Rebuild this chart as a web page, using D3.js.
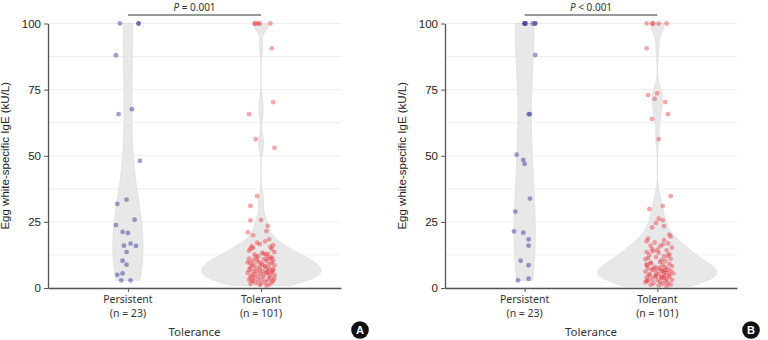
<!DOCTYPE html>
<html>
<head>
<meta charset="utf-8">
<script src="https://cdnjs.cloudflare.com/ajax/libs/d3/7.8.5/d3.min.js"></script>
<style>
body { margin: 0; background: #fff; }
</style>
</head>
<body>
<script>
// categories and labels
const categories = ["Persistent", "Tolerant"]
const counts = [23, 101]
const yTicks = [0, 25, 50, 75, 100]
const gridTicks = [0, 12.5, 25, 37.5, 50, 62.5, 75, 87.5, 100]
const pTexts = ["= 0.001", "< 0.001"]
const panelLetters = ["A", "B"]

// panel A
const aPersistent = [100, 100, 100, 88, 65.7, 67.6, 48.1, 33.4, 31.8, 23.8, 25.8, 21.2, 20.8, 16.8, 15.9, 16.0, 13.6, 10.3, 8.8, 5.0, 5.5, 2.9, 2.9]
const aPersistentJitter = [-0.06, 0.08, 0.08, -0.09, -0.07, 0.03, 0.09, -0.01, -0.08, -0.09, 0.05, -0.04, 0.00, 0.02, 0.06, -0.03, -0.01, -0.04, -0.01, -0.08, -0.04, -0.05, 0.02]
const aTolerant = [100, 100, 100, 100, 100, 90.6, 70.3, 65.7, 56.3, 53.0, 34.7, 31.0, 25.7, 25.6, 23.5, 21.5, 21.0, 19.9,
  18.4, 17.1, 16.6, 15.5, 15.8, 14.7, 14.1, 13.6, 13.0, 12.7, 12.3, 12.1, 16.2, 14.9, 13.3, 17.6, 15.1, 12.9,
  11.8, 11.4, 11.1, 10.9, 10.5, 10.4, 10.2, 9.9, 9.6, 9.4, 9.3, 9.0, 8.7, 8.6, 8.4, 8.2, 8.1, 11.0, 9.7, 8.9, 10.7, 11.6,
  7.9, 7.6, 7.5, 7.3, 7.1, 7.0, 6.8, 6.7, 6.4, 6.3, 6.1, 6.0, 5.8, 5.7, 5.5, 5.3, 5.1, 5.0, 4.8, 4.6, 4.5, 4.3, 4.1, 6.6, 5.9,
  3.9, 3.7, 3.4, 3.2, 3.1, 2.9, 2.7, 2.5, 2.3, 2.1, 1.9, 1.7, 1.5, 1.3, 1.1, 0.9, 3.6, 2.8]
const aTolerantJitter = [-0.05, -0.04, -0.02, -0.01, 0.07, 0.08, 0.09, -0.09, -0.04, 0.10, -0.03, -0.08, 0.00, -0.08, 0.05, 0.04, -0.10, -0.06,
  0.06, -0.03, -0.01, 0.07, -0.07, 0.08, -0.09, 0.10, 0.02, -0.05, 0.04, -0.02, 0.09, -0.08, 0.01, 0.03, -0.06, 0.05,
  -0.04, 0.07, -0.09, 0.02, 0.09, -0.06, 0.04, -0.02, 0.08, -0.08, 0.00, 0.06, -0.05, 0.10, -0.07, 0.03, -0.01, 0.05, -0.10, 0.01, -0.03, 0.08,
  0.03, -0.08, 0.06, -0.04, 0.09, -0.01, -0.09, 0.05, 0.01, -0.06, 0.08, -0.03, 0.04, -0.10, 0.07, 0.00, -0.05, 0.10, -0.07, 0.02, 0.06, -0.02, -0.08, 0.09, 0.04,
  -0.05, 0.07, 0.01, -0.09, 0.05, -0.02, 0.09, -0.07, 0.03, 0.08, -0.04, 0.00, -0.08, 0.06, -0.01, 0.04, 0.10, -0.06]

// panel B
const bPersistent = [100, 100, 100, 100, 100, 100, 100, 88.1, 65.7, 65.7, 50.4, 48.4, 46.9, 33.8, 28.9, 21.4, 20.9, 18.4, 16.0, 10.3, 8.6, 2.9, 3.5]
const bPersistentJitter = [0.00, 0.00, 0.00, 0.01, 0.06, 0.08, 0.08, 0.08, 0.03, 0.04, -0.06, -0.01, 0.00, 0.04, -0.07, -0.08, -0.01, 0.03, 0.03, -0.03, 0.03, -0.05, 0.03]
const bTolerant = [100, 100, 100, 100, 100, 90.6, 72.9, 73.6, 71.5, 70.3, 65.7, 63.9, 56.3, 34.7, 31.0, 29.8, 26.2, 25.6, 24.6, 22.9, 23.4, 20.2,
  19.4, 18.7, 18.1, 17.2, 16.9, 16.0, 15.8, 15.3, 17.7, 16.4,
  14.6, 14.2, 13.6, 13.3, 12.8, 12.6, 12.0, 11.7, 11.1, 10.9, 10.5, 10.2, 13.9, 12.2, 11.3, 14.4,
  9.8, 9.6, 9.1, 8.9, 8.7, 8.3, 8.0, 7.9, 7.4, 7.3, 7.0, 6.8, 6.7, 6.4, 6.1, 6.0, 5.8, 5.6, 5.3, 5.2, 5.0, 7.1, 6.3, 8.5, 6.9, 5.5, 9.3, 7.6,
  4.8, 4.7, 4.4, 4.2, 4.0, 3.8, 3.5, 3.4, 3.1, 3.0, 2.8, 2.6, 2.3, 2.2, 1.9, 1.8, 1.6, 1.3, 1.2, 0.9, 0.7, 4.5, 3.9, 2.7, 4.1]
const bTolerantJitter = [-0.08, -0.04, -0.03, 0.01, 0.07, -0.08, -0.07, 0.00, -0.02, 0.06, 0.08, -0.04, 0.01, 0.10, 0.04, -0.06, 0.01, 0.04, -0.01, -0.04, 0.05, 0.09,
  0.10, -0.07, 0.05, -0.02, 0.08, -0.05, 0.02, 0.11, -0.08, 0.04,
  -0.04, 0.07, -0.08, 0.01, 0.09, -0.06, 0.05, -0.01, 0.10, -0.09, 0.03, 0.06, -0.03, 0.08, -0.07, 0.00,
  0.02, -0.05, 0.09, -0.08, 0.04, 0.11, -0.02, 0.06, -0.07, 0.00, 0.08, -0.04, 0.03, 0.10, -0.09, 0.05, -0.01, 0.07, -0.06, 0.01, 0.09, -0.03, 0.04, -0.08, 0.06, 0.12, -0.05, 0.02,
  -0.06, 0.05, -0.02, 0.09, -0.08, 0.03, 0.07, -0.04, 0.11, 0.00, -0.07, 0.06, 0.02, -0.09, 0.08, -0.03, 0.04, 0.10, -0.05, 0.01, 0.07, -0.01, 0.05, -0.08, 0.03]

const dotColors = ["#3d3d99", "#e8303a"]
const dotOpacity = [0.5, 0.42]

const panels = [
  {x0: 48, x1: 341, groups: [[aPersistent, aPersistentJitter], [aTolerant, aTolerantJitter]], p: pTexts[0], letter: panelLetters[0], lx: 360},
  {x0: 445, x1: 737, groups: [[bPersistent, bPersistentJitter], [bTolerant, bTolerantJitter]], p: pTexts[1], letter: panelLetters[1], lx: 751}
]

const W = 768, H = 340
const svg = d3.select("body").append("svg").attr("width", W).attr("height", H)
const y = d3.scaleLinear().domain([0, 100]).range([288, 23.5])

// gaussian kde, trimmed to data range, bandwidth like R's bw.nrd0
function kde(values) {
  let n = values.length
  let sd = d3.deviation(values)
  let iqr = d3.quantile(values, 0.75) - d3.quantile(values, 0.25)
  let bw = 0.9 * Math.min(sd, iqr / 1.34) * Math.pow(n, -0.2)
  let lo = d3.min(values), hi = d3.max(values)
  return d3.range(0, 201).map(i => {
    let t = lo + (hi - lo) * i / 200
    let d = d3.mean(values, v => Math.exp(-0.5 * ((t - v) / bw) ** 2)) / (bw * Math.sqrt(2 * Math.PI))
    return [t, d]
  })
}

panels.forEach(p => {
  let g = svg.append("g")
  let x = d3.scaleLinear().domain([0.4, 2.6]).range([p.x0, p.x1])

  g.selectAll(".grid").data(gridTicks).enter().append("line")
    .attr("x1", p.x0).attr("x2", p.x1)
    .attr("y1", d => y(d)).attr("y2", d => y(d))
    .attr("stroke", "#eeeeee").attr("stroke-width", 1)

  let dens = p.groups.map(gr => kde(gr[0]))
  let maxD = d3.max(dens, d => d3.max(d, e => e[1]))
  let w = d3.scaleLinear().domain([0, maxD]).range([0, x(1.45) - x(1)])

  dens.forEach((d, i) => {
    let cx = x(i + 1)
    g.append("path").datum(d)
      .attr("d", d3.area().x0(e => cx - w(e[1])).x1(e => cx + w(e[1])).y(e => y(e[0])).curve(d3.curveBasis))
      .attr("fill", "#e8e8e8").attr("stroke", "#d6d6d6").attr("stroke-width", 0.6)
  })

  p.groups.forEach((gr, i) => {
    g.selectAll(".dot" + i).data(gr[0]).enter().append("circle")
      .attr("cx", (d, j) => x(i + 1 + (gr[1][j] || 0)))
      .attr("cy", d => y(d))
      .attr("r", 2.4)
      .attr("fill", dotColors[i]).attr("fill-opacity", dotOpacity[i])
  })

  // y axis
  let ya = g.append("g").attr("transform", `translate(${p.x0},0)`)
    .call(d3.axisLeft(y).tickValues(yTicks).tickSize(4).tickSizeOuter(0).tickPadding(3))
  ya.select(".domain").attr("stroke", "#555").attr("stroke-width", 1.3)
  ya.selectAll(".tick line").attr("stroke", "#555")
  ya.selectAll("text").attr("font-family", "Liberation Sans, Arial, sans-serif").attr("font-size", 11.5).attr("fill", "#222")

  // x axis
  let xa = g.append("g").attr("transform", "translate(0,288)")
    .call(d3.axisBottom(x).tickValues([1, 2]).tickSize(4).tickSizeOuter(0).tickFormat(""))
  xa.select(".domain").attr("stroke", "#555").attr("stroke-width", 1.3)
  xa.selectAll(".tick line").attr("stroke", "#555")

  categories.forEach((c, i) => {
    let t = g.append("text").attr("x", x(i + 1)).attr("text-anchor", "middle")
      .attr("font-family", "Noto Sans, sans-serif").attr("font-size", 10.5).attr("fill", "#333")
    t.append("tspan").attr("x", x(i + 1)).attr("y", 303).text(c)
    t.append("tspan").attr("x", x(i + 1)).attr("y", 317).text(`(n = ${counts[i]})`)
  })

  g.append("text").attr("x", (x(1) + x(2)) / 2).attr("y", 336)
    .attr("text-anchor", "middle").attr("font-family", "Noto Sans, sans-serif")
    .attr("font-size", 11.5).attr("fill", "#333").text("Tolerance")

  g.append("text")
    .attr("transform", `translate(${p.x0 - 39},${y(50)}) rotate(-90)`)
    .attr("text-anchor", "middle").attr("font-family", "Liberation Sans, Arial, sans-serif")
    .attr("font-size", 11.5).attr("fill", "#222")
    .text("Egg white-specific IgE (kU/L)")

  // significance bracket
  g.append("line").attr("x1", x(1)).attr("x2", x(2)).attr("y1", 15).attr("y2", 15)
    .attr("stroke", "#333").attr("stroke-width", 1)
  let pt = g.append("text").attr("x", (x(1) + x(2)) / 2).attr("y", 11)
    .attr("text-anchor", "middle").attr("font-family", "Noto Sans, sans-serif")
    .attr("font-size", 10).attr("fill", "#333")
  pt.append("tspan").attr("font-style", "italic").text("P")
  pt.append("tspan").text(" " + p.p)

  // panel letter
  g.append("circle").attr("cx", p.lx).attr("cy", 330).attr("r", 8.8).attr("fill", "#111")
  g.append("text").attr("x", p.lx).attr("y", 334).attr("text-anchor", "middle")
    .attr("font-family", "Liberation Sans, Arial, sans-serif").attr("font-weight", "bold")
    .attr("font-size", 11).attr("fill", "#fff").text(p.letter)
})
</script>
</body>
</html>
